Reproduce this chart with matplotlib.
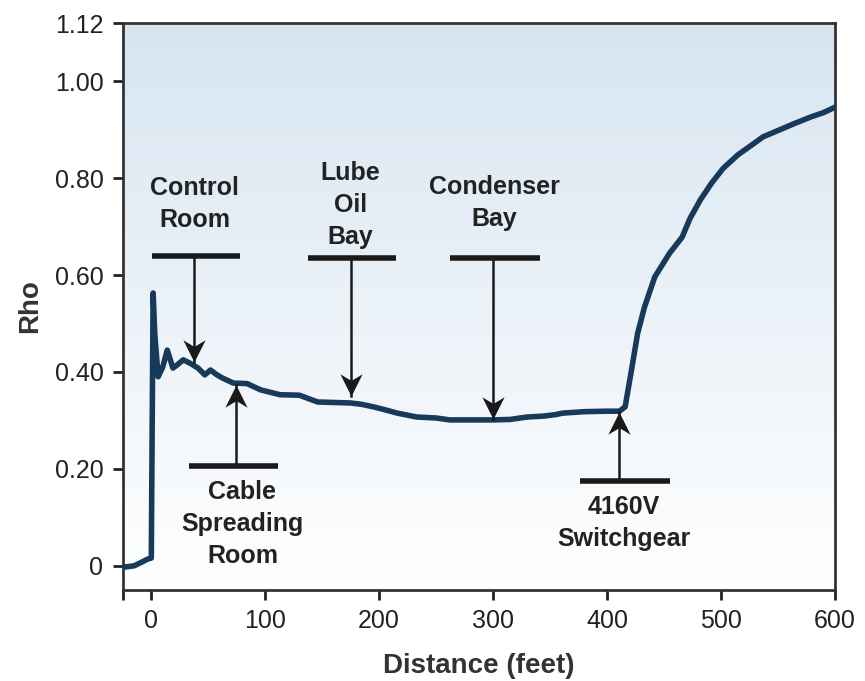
import numpy as np
import matplotlib.pyplot as plt
from matplotlib.colors import LinearSegmentedColormap
from matplotlib.path import Path

plt.rcParams['font.family'] = ['Liberation Sans', 'DejaVu Sans']

# trace read along the run, distance in feet
distance = [-25, -15, -8, -3, 0, 0.8, 1.6, 3, 6, 10, 14, 19, 23, 28, 34, 41, 47,
            52, 57, 62, 72, 84, 96, 113, 130, 146, 160, 175, 185, 195, 205, 216,
            233, 250, 262, 280, 300, 315, 330, 345, 355, 361, 380, 400, 411,
            416, 422, 427, 433, 442, 455, 466, 473, 482, 492, 502, 515, 527,
            537, 550, 565, 580, 590, 600]
rho = [-0.003, 0.0, 0.008, 0.014, 0.016, 0.30, 0.563, 0.48, 0.39, 0.41, 0.445,
       0.408, 0.415, 0.425, 0.418, 0.408, 0.394, 0.404, 0.395, 0.388, 0.377,
       0.376, 0.363, 0.353, 0.352, 0.338, 0.337, 0.336, 0.333, 0.328, 0.322,
       0.315, 0.307, 0.305, 0.301, 0.301, 0.301, 0.302, 0.307, 0.309, 0.312,
       0.315, 0.318, 0.319, 0.319, 0.328, 0.41, 0.48, 0.534, 0.596, 0.645,
       0.678, 0.717, 0.755, 0.79, 0.82, 0.848, 0.868, 0.885, 0.898, 0.913,
       0.927, 0.935, 0.946]

x_ticks = [-25, 0, 100, 200, 300, 400, 500, 600]
x_tick_labels = ['', '0', '100', '200', '300', '400', '500', '600']
y_ticks = [0, 0.2, 0.4, 0.6, 0.8, 1.0, 1.12]
y_tick_labels = ['0', '0.20', '0.40', '0.60', '0.80', '1.00', '1.12']

# labelled locations: text, bar span, bar level, arrow x, arrow tip level, text position
markers = [
    ('Control\nRoom', (1, 78), 0.639, 37.5, 0.42, (38, 0.747)),
    ('Lube\nOil\nBay', (138, 215), 0.635, 175, 0.35, (175, 0.744)),
    ('Condenser\nBay', (262, 341), 0.635, 300, 0.303, (301, 0.748)),
    ('Cable\nSpreading\nRoom', (33, 111), 0.206, 74, 0.373, (80, 0.086)),
    ('4160V\nSwitchgear', (376, 455), 0.175, 411, 0.318, (415, 0.089)),
]

# barbed arrowheads, tip at the marker origin
head_down = Path([(0, 0), (-0.5, 1), (0, 0.7), (0.5, 1), (0, 0)],
                 [Path.MOVETO, Path.LINETO, Path.LINETO, Path.LINETO, Path.CLOSEPOLY])
head_up = Path([(0, 0), (-0.5, -1), (0, -0.7), (0.5, -1), (0, 0)],
               [Path.MOVETO, Path.LINETO, Path.LINETO, Path.LINETO, Path.CLOSEPOLY])

fig = plt.figure(figsize=(8.65, 6.81), dpi=100)
ax = fig.add_axes([0.142, 0.1336, 0.823, 0.8326])
ax.set_xlim(-25, 600)
ax.set_ylim(-0.05, 1.12)

# light blue to white fade behind the trace
fade = LinearSegmentedColormap.from_list('fade', ['#ffffff', '#d7e5f1'])
grad = np.linspace(0, 1, 256).reshape(-1, 1)
ax.imshow(grad, cmap=fade, aspect='auto', extent=[0, 1, 0, 1],
          transform=ax.transAxes, origin='lower', zorder=0)

ax.plot(distance, rho, color='#183a5a', lw=4, solid_joinstyle='round', zorder=3)

for text, (x0, x1), bar_y, ax_x, tip_y, (tx, ty) in markers:
    ax.plot([x0, x1], [bar_y, bar_y], color='#1a1a1a', lw=4, solid_capstyle='butt', zorder=4)
    ax.plot([ax_x, ax_x], [bar_y, tip_y], color='#1a1a1a', lw=1.8, zorder=4)
    head = head_down if tip_y < bar_y else head_up
    ax.plot([ax_x], [tip_y], marker=head, markersize=32, color='#1a1a1a',
            markeredgewidth=0, zorder=4)
    ax.text(tx, ty, text, ha='center', va='center', fontsize=18, fontweight='bold',
            color='#222222', linespacing=1.42, zorder=5)

ax.set_xticks(x_ticks)
ax.set_xticklabels(x_tick_labels)
ax.set_yticks(y_ticks)
ax.set_yticklabels(y_tick_labels)
ax.tick_params(direction='out', length=7, width=2, labelsize=18, colors='#222222', pad=7)

for s in ax.spines.values():
    s.set_linewidth(2)
    s.set_color('#333333')

ax.set_xlabel('Distance (feet)', fontsize=20, fontweight='bold', color='#333333', labelpad=14)
ax.set_ylabel('Rho', fontsize=20, fontweight='bold', color='#333333', labelpad=8)

fig.savefig('out.png', dpi=100)
